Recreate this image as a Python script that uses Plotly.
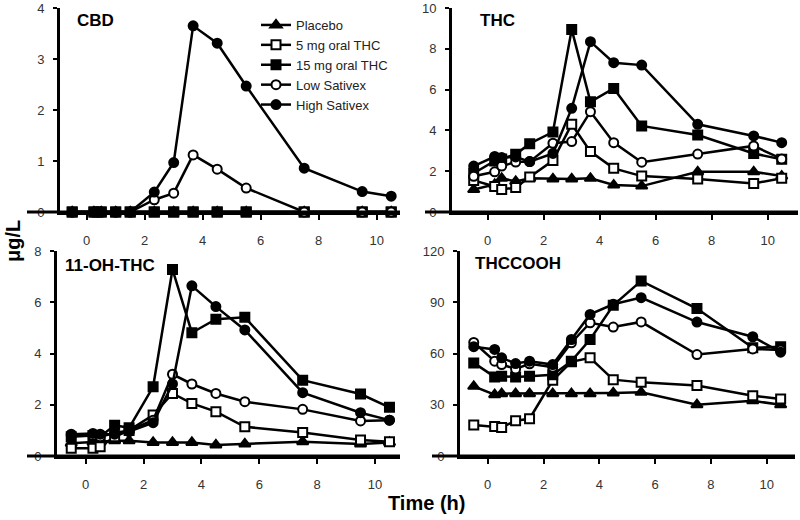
import plotly.graph_objects as go

# ---------------- data ----------------
time_h = [-0.5, 0.25, 0.5, 1, 1.5, 2.33, 3, 3.67, 4.5, 5.5, 7.5, 9.5, 10.5]
group_names = ["Placebo", "5 mg oral THC", "15 mg oral THC", "Low Sativex", "High Sativex"]

# CBD (ug/L)
cbd_placebo = [0, 0, 0, 0, 0, 0, 0, 0, 0, 0, 0, 0, 0]
cbd_5mg = [0, 0, 0, 0, 0, 0, 0, 0, 0, 0, 0, 0, 0]
cbd_15mg = [0, 0, 0, 0, 0, 0, 0, 0, 0, 0, 0, 0, 0]
cbd_low = [0, 0, 0, 0, 0, 0.24, 0.37, 1.12, 0.84, 0.47, 0, 0, 0]
cbd_high = [0, 0, 0, 0, 0, 0.39, 0.97, 3.65, 3.31, 2.47, 0.86, 0.40, 0.31]

# THC (ug/L)
thc_placebo = [1.1, 1.35, 1.65, 1.5, 1.65, 1.62, 1.62, 1.65, 1.32, 1.27, 1.97, 1.97, 1.76]
thc_5mg = [1.55, 1.25, 1.1, 1.2, 1.72, 2.52, 4.3, 2.96, 2.14, 1.76, 1.62, 1.4, 1.65]
thc_15mg = [1.9, 2.5, 2.6, 2.83, 3.35, 3.92, 8.95, 5.4, 6.06, 4.22, 3.77, 2.87, 2.58]
thc_low = [1.75, 1.97, 2.25, 2.45, 2.47, 3.37, 3.45, 4.92, 3.4, 2.44, 2.84, 3.24, 2.6]
thc_high = [2.25, 2.72, 2.67, 2.7, 2.47, 2.87, 5.08, 8.35, 7.32, 7.2, 4.3, 3.73, 3.4]

# 11-OH-THC (ug/L)
oh_placebo = [0.5, 0.55, 0.55, 0.6, 0.6, 0.53, 0.53, 0.53, 0.43, 0.47, 0.56, 0.47, 0.53]
oh_5mg = [0.3, 0.3, 0.36, 0.75, 1.0, 1.6, 2.44, 2.05, 1.73, 1.14, 0.92, 0.62, 0.56]
oh_15mg = [0.75, 0.8, 0.75, 1.2, 1.1, 2.7, 7.28, 4.81, 5.34, 5.41, 2.96, 2.42, 1.9]
oh_low = [0.8, 0.8, 0.75, 0.9, 1.0, 1.4, 3.19, 2.81, 2.44, 2.12, 1.82, 1.37, 1.4]
oh_high = [0.85, 0.88, 0.85, 0.85, 0.95, 1.3, 2.81, 6.64, 5.83, 4.92, 2.47, 1.69, 1.4]

# THCCOOH (ug/L)
cooh_placebo = [40.8, 35.9, 36.5, 36.5, 36.5, 36.5, 36.5, 36.5, 36.9, 37.3, 30.0, 32.3, 30.0]
cooh_5mg = [18.2, 17.3, 16.7, 20.6, 21.8, 44.3, 55.1, 57.5, 44.7, 43.1, 41.3, 35.3, 33.3]
cooh_15mg = [54.5, 46.3, 46.7, 46.3, 46.7, 47.6, 55.5, 68.2, 88.2, 102.5, 86.3, 63.3, 63.9]
cooh_low = [66.5, 55.5, 53.5, 51.0, 54.0, 52.0, 66.3, 78.0, 75.5, 78.5, 59.4, 62.7, 62.0]
cooh_high = [64.0, 62.4, 57.5, 54.1, 55.5, 53.5, 68.2, 82.9, 88.8, 92.7, 78.4, 69.8, 60.8]

panel_titles = ["CBD", "THC", "11-OH-THC", "THCCOOH"]
x_tick_vals = [0, 2, 4, 6, 8, 10]
y_dticks = [1, 2, 2, 30]
y_maxes = [4, 10, 8, 120]

# ---------------- styling ----------------
W, H = 800, 520
ML, MR, MT, MB = 4, 1, 4, 4          # small page margins (pixels)
PW, PH = W - ML - MR, H - MT - MB
FONT = "Liberation Sans, Arial, sans-serif"
symbols = ["triangle-up", "square", "square", "circle", "circle"]
fills = ["black", "white", "black", "white", "black"]
msizes = [10, 9, 9, 9, 9]


def px(x):
    # page pixel -> paper fraction
    return (x - ML) / PW


def py(y):
    return 1 - (y - MT) / PH


geo = [
    dict(xl=27, xr=400, x0=86.7, x10=376.7, yb=212, yt=8, yax=60, title=(75, 20)),
    dict(xl=425, xr=798, x0=487.7, x10=767.7, yb=212, yt=8, yax=452, title=(478, 20)),
    dict(xl=27, xr=400, x0=85.7, x10=375.0, yb=456, yt=251, yax=57, title=(63, 265)),
    dict(xl=432, xr=795, x0=487.7, x10=766.7, yb=456, yt=251, yax=460, title=(473, 263)),
]

panels = [
    [cbd_placebo, cbd_5mg, cbd_15mg, cbd_low, cbd_high],
    [thc_placebo, thc_5mg, thc_15mg, thc_low, thc_high],
    [oh_placebo, oh_5mg, oh_15mg, oh_low, oh_high],
    [cooh_placebo, cooh_5mg, cooh_15mg, cooh_low, cooh_high],
]

fig = go.Figure()
layout = dict(
    width=W, height=H,
    margin=dict(l=ML, r=MR, t=MT, b=MB, pad=0),
    paper_bgcolor="white", plot_bgcolor="white",
    font=dict(family=FONT, size=13, color="#333"),
    showlegend=True,
    legend=dict(x=px(256), y=py(10), xanchor="left", yanchor="top",
                font=dict(family=FONT, size=13, color="#222"),
                bgcolor="rgba(0,0,0,0)", itemwidth=30, tracegroupgap=0),
)

annotations = []
shapes = []
for i, (series, g) in enumerate(zip(panels, geo)):
    k = "" if i == 0 else str(i + 1)
    xa, ya = "x" + k, "y" + k
    unit = (g["x10"] - g["x0"]) / 10.0
    xmin = (g["yax"] - g["x0"]) / unit
    xmax = (g["xr"] - g["x0"]) / unit
    for j, vals in enumerate(series):
        fig.add_trace(go.Scatter(
            x=time_h, y=vals, mode="lines+markers", name=group_names[j],
            xaxis=xa, yaxis=ya, showlegend=(i == 0), cliponaxis=False,
            line=dict(color="black", width=2.5),
            marker=dict(symbol=symbols[j], size=msizes[j], color=fills[j],
                        line=dict(color="black", width=2)),
        ))
    layout["xaxis" + k] = dict(
        domain=[px(g["yax"]), px(g["xr"])], range=[xmin, xmax], anchor=ya,
        showline=True, linewidth=3, linecolor="black", showgrid=False, zeroline=False,
        ticks="outside", ticklen=5, tickwidth=2, tickcolor="black",
        tickvals=x_tick_vals, ticklabelstandoff=9, automargin=False,
        tickfont=dict(family=FONT, size=13, color="#333"),
    )
    layout["yaxis" + k] = dict(
        domain=[py(g["yb"]), py(g["yt"])], range=[0, y_maxes[i]], anchor=xa,
        showline=True, linewidth=3, linecolor="black",
        showgrid=False, zeroline=False, ticks="outside", ticklen=4, tickwidth=2,
        tickcolor="black", dtick=y_dticks[i], tick0=0, ticklabelstandoff=6,
        automargin=False,
        tickfont=dict(family=FONT, size=13, color="#333"),
    )
    # Prism-style axis frame: time axis line runs left past the value axis
    shapes.append(dict(type="line", xref="paper", yref="paper",
                       x0=px(g["xl"]), x1=px(g["xr"]), y0=py(g["yb"]), y1=py(g["yb"]),
                       line=dict(color="black", width=3), layer="above"))
    shapes.append(dict(type="line", xref="paper", yref="paper",
                       x0=px(g["yax"] - 1.5), x1=px(g["yax"] - 1.5),
                       y0=py(g["yb"]), y1=py(g["yt"]),
                       line=dict(color="black", width=3), layer="above"))
    tx, ty = g["title"]
    annotations.append(dict(
        text="<b>%s</b>" % panel_titles[i], x=px(tx), y=py(ty), xref="paper", yref="paper",
        xanchor="left", yanchor="middle", showarrow=False,
        font=dict(family=FONT, size=17, color="black"),
    ))

annotations.append(dict(text="<b>μg/L</b>", x=px(13), y=py(241), xref="paper", yref="paper",
                        textangle=-90, showarrow=False, xanchor="center", yanchor="middle",
                        font=dict(family=FONT, size=20, color="black")))
annotations.append(dict(text="<b>Time (h)</b>", x=px(426), y=py(503), xref="paper", yref="paper",
                        showarrow=False, xanchor="center", yanchor="middle",
                        font=dict(family=FONT, size=20, color="black")))
layout["annotations"] = annotations
layout["shapes"] = shapes

fig.update_layout(**layout)
fig.write_html("out.html", config={"displayModeBar": False},
               post_script="document.body.style.margin='0';document.body.style.overflow='hidden';")
